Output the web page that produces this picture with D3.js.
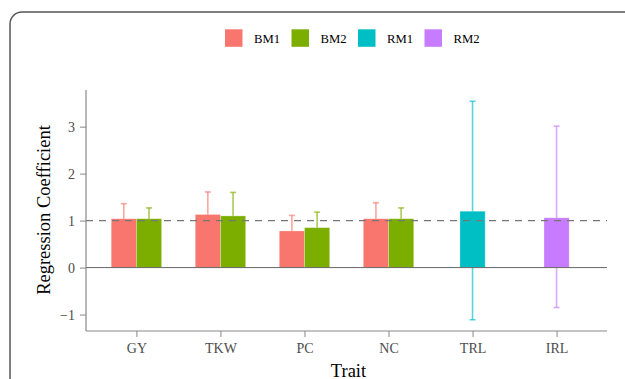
<!DOCTYPE html>
<html>
<head>
<meta charset="utf-8">
<script src="https://cdn.jsdelivr.net/npm/d3@7"></script>
<style>
  body { margin: 0; background: #fff; }
  svg { display: block; font-family: "Liberation Serif", "Times New Roman", serif; }
</style>
</head>
<body>
<svg id="chart" width="625" height="379"></svg>
<script>
// Data
const traits = ['GY', 'TKW', 'PC', 'NC', 'TRL', 'IRL'];
const groups = ['BM1', 'BM2', 'RM1', 'RM2'];
const colors = ['#F8766D', '#7CAE00', '#00BFC4', '#C77CFF'];

const bm1Mean  = [1.04, 1.13, 0.78, 1.04, null, null];
const bm1Upper = [1.36, 1.61, 1.11, 1.38, null, null];
const bm1Lower = [0.72, 0.65, 0.45, 0.70, null, null];

const bm2Mean  = [1.04, 1.10, 0.85, 1.04, null, null];
const bm2Upper = [1.27, 1.60, 1.18, 1.27, null, null];
const bm2Lower = [0.81, 0.60, 0.52, 0.81, null, null];

const rm1Mean  = [null, null, null, null, 1.20, null];
const rm1Upper = [null, null, null, null, 3.54, null];
const rm1Lower = [null, null, null, null, -1.11, null];

const rm2Mean  = [null, null, null, null, null, 1.06];
const rm2Upper = [null, null, null, null, null, 3.01];
const rm2Lower = [null, null, null, null, null, -0.85];

const yTicks = [-1, 0, 1, 2, 3];
const refLine = 1;

const seriesMeans  = [bm1Mean, bm2Mean, rm1Mean, rm2Mean];
const seriesUpper  = [bm1Upper, bm2Upper, rm1Upper, rm2Upper];
const seriesLower  = [bm1Lower, bm2Lower, rm1Lower, rm2Lower];

// Build long table (dodge only among groups present for a trait)
const rows = [];
traits.forEach((t, ti) => {
    const present = groups.map((g, gi) => gi).filter(gi => seriesMeans[gi][ti] != null);
    present.forEach((gi, k) => {
        rows.push({
            trait: t,
            group: groups[gi],
            color: colors[gi],
            mean: seriesMeans[gi][ti],
            upper: seriesUpper[gi][ti],
            lower: seriesLower[gi][ti],
            slot: k,
            nSlots: present.length
        });
    });
});

const svg = d3.select('#chart');
const plot = { left: 86, right: 607, top: 90, bottom: 331 };

// Card frame
svg.append('rect')
    .attr('x', 10).attr('y', 12)
    .attr('width', 700).attr('height', 500)
    .attr('rx', 12)
    .attr('fill', '#fff')
    .attr('stroke', '#555')
    .attr('stroke-width', 1.5);

// Scales
const x = d3.scalePoint().domain(traits).range([plot.left, plot.right]).padding(0.6);
const y = d3.scaleLinear().domain([-1.35, 3.78]).range([plot.bottom, plot.top]);
const step = x.step();
const barW = step * 0.3;

function barCenter(d) {
    return x(d.trait) + (d.slot - (d.nSlots - 1) / 2) * barW;
}

// Error bars (behind bars)
const eb = svg.append('g').attr('class', 'errorbars');
rows.forEach(d => {
    const cx = barCenter(d);
    const g = eb.append('g')
        .attr('stroke', d.color)
        .attr('stroke-opacity', 0.65)
        .attr('stroke-width', 1.6);
    g.append('line').attr('x1', cx).attr('x2', cx).attr('y1', y(d.upper)).attr('y2', y(d.lower));
    g.append('line').attr('x1', cx - 3).attr('x2', cx + 3).attr('y1', y(d.upper)).attr('y2', y(d.upper));
    g.append('line').attr('x1', cx - 3).attr('x2', cx + 3).attr('y1', y(d.lower)).attr('y2', y(d.lower));
});

// Bars
svg.append('g').attr('class', 'bars')
    .selectAll('rect')
    .data(rows)
    .join('rect')
    .attr('x', d => barCenter(d) - barW / 2)
    .attr('width', barW)
    .attr('y', d => y(Math.max(0, d.mean)))
    .attr('height', d => Math.abs(y(d.mean) - y(0)))
    .attr('fill', d => d.color)
    .attr('stroke', '#fff')
    .attr('stroke-opacity', 0.35)
    .attr('stroke-width', 0.8);

// Zero line and reference line
svg.append('line')
    .attr('x1', plot.left).attr('x2', plot.right)
    .attr('y1', y(0)).attr('y2', y(0))
    .attr('stroke', '#666').attr('stroke-width', 1);

svg.append('line')
    .attr('x1', plot.left).attr('x2', plot.right)
    .attr('y1', y(refLine)).attr('y2', y(refLine))
    .attr('stroke', '#777').attr('stroke-width', 1.1)
    .attr('stroke-dasharray', '7,6');

// Axes
const yAxis = svg.append('g')
    .attr('transform', `translate(${plot.left},0)`)
    .call(d3.axisLeft(y).tickValues(yTicks).tickSize(6).tickPadding(5).tickFormat(d3.format('d')));

const xAxis = svg.append('g')
    .attr('transform', `translate(0,${plot.bottom})`)
    .call(d3.axisBottom(x).tickSize(6).tickPadding(6));

[yAxis, xAxis].forEach(ax => {
    ax.attr('font-family', null).attr('font-size', null);
    ax.select('.domain').attr('stroke', '#888').attr('stroke-width', 1.2);
    ax.selectAll('.tick line').attr('stroke', '#888').attr('stroke-width', 1);
    ax.selectAll('.tick text')
        .attr('fill', '#4d4d4d')
        .style('font-size', '14px');
});
yAxis.select('.domain').attr('d', `M0,${plot.top}V${plot.bottom}`);
xAxis.select('.domain').attr('d', `M${plot.left},0H${plot.right}`);

// Axis titles
svg.append('text')
    .attr('x', (plot.left + plot.right) / 2 + 2)
    .attr('y', 376.5)
    .attr('text-anchor', 'middle')
    .style('font-size', '18.5px')
    .attr('fill', '#000')
    .text('Trait');

svg.append('text')
    .attr('transform', `translate(50,210) rotate(-90)`)
    .attr('text-anchor', 'middle')
    .style('font-size', '18.5px')
    .attr('fill', '#000')
    .text('Regression Coefficient');

// Legend
const legend = svg.append('g').attr('class', 'legend');
const legendX = 225, legendY = 29.3, keySize = 17.5, entryW = 66.5;
groups.forEach((g, i) => {
    const lx = legendX + i * entryW;
    legend.append('rect')
        .attr('x', lx).attr('y', legendY)
        .attr('width', keySize).attr('height', keySize)
        .attr('fill', colors[i]);
    legend.append('text')
        .attr('x', lx + 29).attr('y', 42.7)
        .style('font-size', '12.7px')
        .attr('fill', '#000')
        .text(g);
});
</script>
</body>
</html>
